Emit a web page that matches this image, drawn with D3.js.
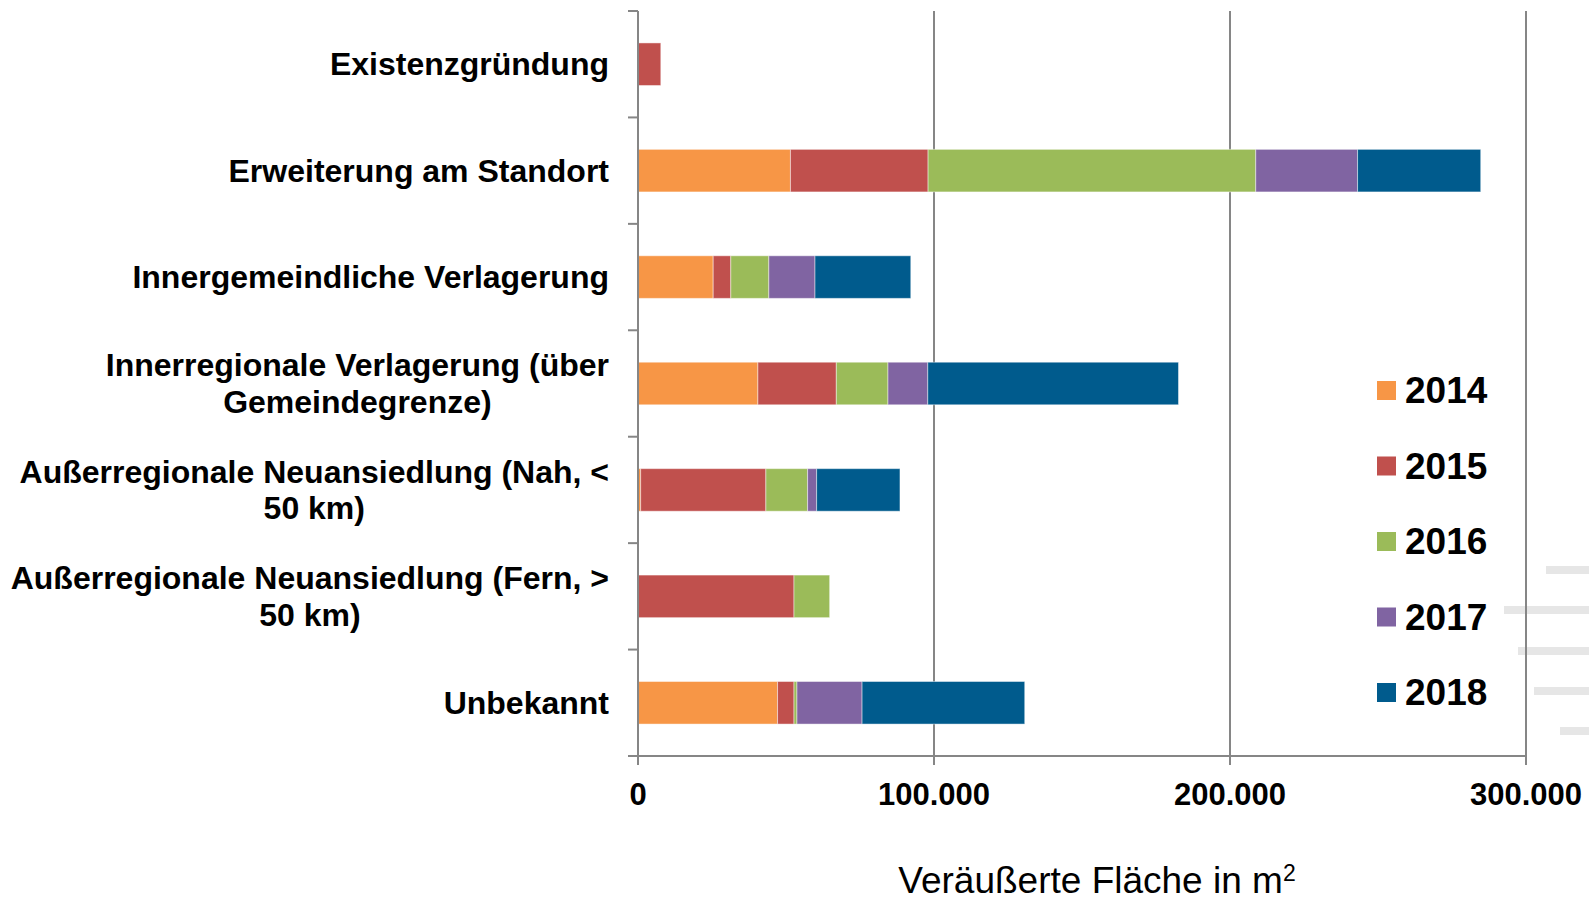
<!DOCTYPE html>
<html>
<head>
<meta charset="utf-8">
<script src="https://cdn.jsdelivr.net/npm/d3@7"></script>
<style>
  html, body { margin: 0; padding: 0; background: #fff; }
  svg { display: block; font-family: "Liberation Sans", Arial, sans-serif; }
</style>
</head>
<body>
<svg id="chart" width="1589" height="900"></svg>
<script>
// categories (top to bottom), "\n" = line break in label
const categories = [
  "Existenzgründung",
  "Erweiterung am Standort",
  "Innergemeindliche Verlagerung",
  "Innerregionale Verlagerung (über\nGemeindegrenze)",
  "Außerregionale Neuansiedlung (Nah, <\n50 km)",
  "Außerregionale Neuansiedlung (Fern, >\n50 km)",
  "Unbekannt"
];
const years = ["2014", "2015", "2016", "2017", "2018"];
const colors = ["#F79646", "#C0504D", "#9BBB59", "#8064A2", "#005B8D"];

// veräußerte Fläche in m² je Jahr
const v2014 = [0, 51500, 25400, 40500, 900, 0, 47150];
const v2015 = [7700, 46500, 5950, 26500, 42300, 52700, 5550];
const v2016 = [0, 110700, 12850, 17450, 14100, 12050, 1000];
const v2017 = [0, 34400, 15600, 13450, 3050, 0, 22000];
const v2018 = [0, 41600, 32350, 84700, 28150, 0, 54950];

const xTicks = [0, 100000, 200000, 300000];
const xTitle = "Veräußerte Fläche in m";

// leftover grey stubs at the right edge of the slide crop
const stubs = [
  { x: 1546, y: 566 }, { x: 1504, y: 606 }, { x: 1518, y: 647 },
  { x: 1534, y: 687 }, { x: 1560, y: 727 }
];

const series = [v2014, v2015, v2016, v2017, v2018];
const rows = categories.map((c, i) => {
  const r = { cat: c };
  years.forEach((y, j) => (r[y] = series[j][i]));
  return r;
});

const svg = d3.select("#chart");
const mLeft = 638, mRight = 1526, mTop = 11, mBottom = 756;
const axisColor = "#868686";

const x = d3.scaleLinear().domain([0, 300000]).range([mLeft, mRight]);
const y = d3.scaleBand().domain(categories).range([mTop, mBottom]).padding(0);
const barH = y.bandwidth() * 0.4;

const de = d3.formatLocale({ decimal: ",", thousands: ".", grouping: [3], currency: ["", " €"] });
const fmt = de.format(",");

// stubs
svg.append("g")
  .selectAll("rect")
  .data(stubs)
  .join("rect")
  .attr("x", (d) => d.x)
  .attr("y", (d) => d.y)
  .attr("width", (d) => 1589 - d.x)
  .attr("height", 8)
  .attr("fill", "#e6e6e6");

// vertical gridlines
svg.append("g")
  .selectAll("line")
  .data(xTicks.slice(1))
  .join("line")
  .attr("x1", (d) => x(d))
  .attr("x2", (d) => x(d))
  .attr("y1", mTop)
  .attr("y2", mBottom)
  .attr("stroke", axisColor)
  .attr("stroke-width", 2);

// stacked bars
const stack = d3.stack().keys(years)(rows);
svg.append("g")
  .selectAll("g")
  .data(stack)
  .join("g")
  .attr("fill", (d, i) => colors[i])
  .selectAll("rect")
  .data((d) => d.filter((p) => p[1] - p[0] > 0))
  .join("rect")
  .attr("x", (d) => x(d[0]))
  .attr("y", (d) => y(d.data.cat) + (y.bandwidth() - barH) / 2)
  .attr("width", (d) => x(d[1]) - x(d[0]))
  .attr("height", barH)
  .attr("stroke", "#ffffff")
  .attr("stroke-opacity", 0.45)
  .attr("stroke-width", 1);

// y axis (line + ticks at category borders)
const yAxis = svg.append("g").attr("stroke", axisColor).attr("stroke-width", 2);
yAxis.append("line")
  .attr("x1", mLeft).attr("x2", mLeft)
  .attr("y1", mTop).attr("y2", mBottom);
yAxis.selectAll(".yt")
  .data(categories)
  .join("line")
  .attr("class", "yt")
  .attr("x1", mLeft - 10).attr("x2", mLeft)
  .attr("y1", (d) => y(d)).attr("y2", (d) => y(d));

// x axis
const xAxis = svg.append("g").attr("stroke", axisColor).attr("stroke-width", 2);
xAxis.append("line")
  .attr("x1", mLeft - 10).attr("x2", mRight)
  .attr("y1", mBottom).attr("y2", mBottom);
xAxis.selectAll(".xt")
  .data(xTicks)
  .join("line")
  .attr("class", "xt")
  .attr("x1", (d) => x(d)).attr("x2", (d) => x(d))
  .attr("y1", mBottom).attr("y2", mBottom + 9);

svg.append("g")
  .selectAll("text")
  .data(xTicks)
  .join("text")
  .attr("x", (d) => x(d))
  .attr("y", 805)
  .attr("text-anchor", "middle")
  .attr("font-size", 31)
  .attr("font-weight", "bold")
  .attr("fill", "#000")
  .text((d) => fmt(d));

// axis title
const title = svg.append("text")
  .attr("x", 1097)
  .attr("y", 893)
  .attr("text-anchor", "middle")
  .attr("font-size", 37)
  .attr("fill", "#000");
title.append("tspan").text(xTitle);
title.append("tspan").attr("font-size", 23).attr("dy", -12).text("2");

// category labels: block right aligned, lines centred inside block
const labelRight = 609, lineH = 36.5, labelSize = 32;
categories.forEach((c) => {
  const lines = c.split("\n");
  const g = svg.append("g");
  const cy = y(c) + y.bandwidth() / 2;
  const texts = lines.map((ln, i) =>
    g.append("text")
      .attr("y", cy + 11 + (i - (lines.length - 1) / 2) * lineH)
      .attr("text-anchor", "middle")
      .attr("font-size", labelSize)
      .attr("font-weight", "bold")
      .attr("fill", "#000")
      .text(ln)
  );
  const maxW = d3.max(texts, (t) => t.node().getComputedTextLength());
  texts.forEach((t) => t.attr("x", labelRight - maxW / 2));
});

// legend
const legend = svg.append("g")
  .selectAll("g")
  .data(years)
  .join("g")
  .attr("transform", (d, i) => "translate(1377," + (381 + i * 75.5) + ")");
legend.append("rect")
  .attr("width", 19)
  .attr("height", 19)
  .attr("fill", (d, i) => colors[i]);
legend.append("text")
  .attr("x", 28)
  .attr("y", 22)
  .attr("font-size", 37)
  .attr("font-weight", "bold")
  .attr("fill", "#000")
  .text((d) => d);
</script>
</body>
</html>
